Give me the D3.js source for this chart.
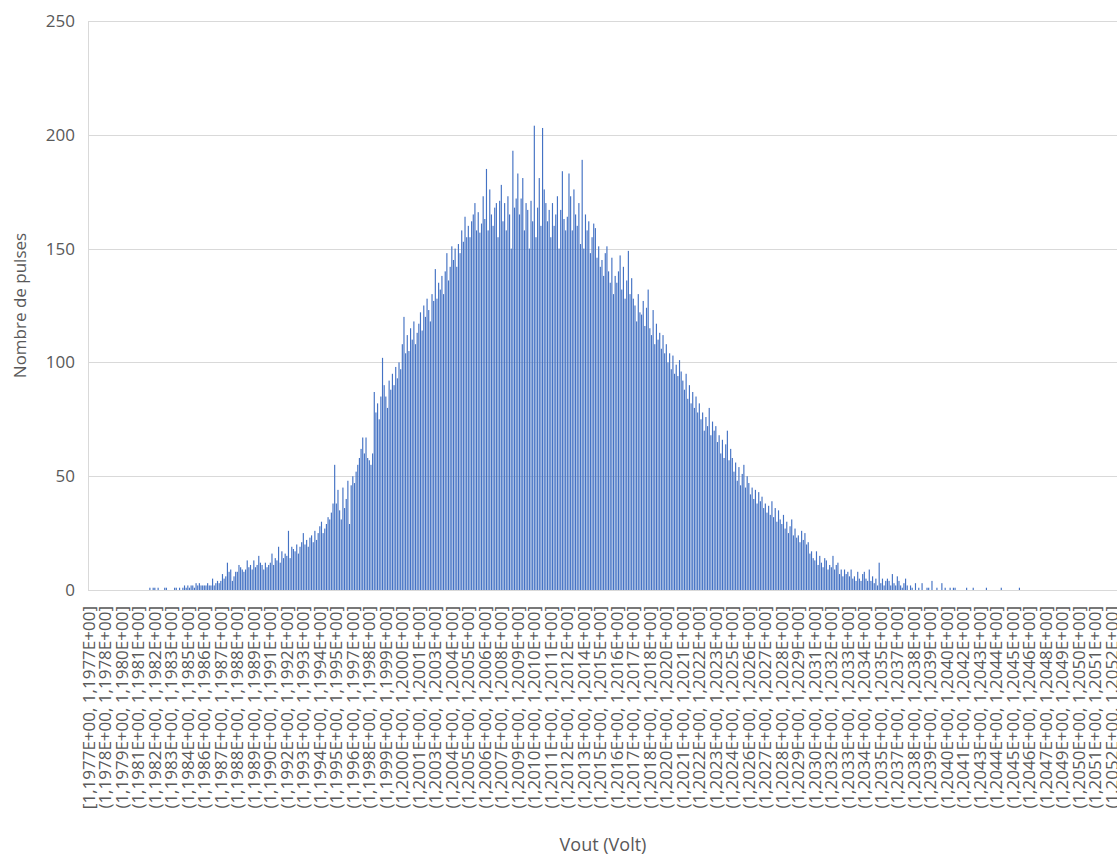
<!DOCTYPE html>
<html>
<head>
<meta charset="utf-8">
<script src="https://cdn.jsdelivr.net/npm/d3@7"></script>
<style>
  body { margin: 0; background: #ffffff; }
  svg { display: block; font-family: "Open Sans", sans-serif; }
</style>
</head>
<body>
<svg id="chart" width="1117" height="855"></svg>
<script>
// Pulse counts per Vout bin (ten bins per labelled interval)
const counts = [
  0,0,0,0,0,0,0,0,0,0,
  0,0,0,0,0,0,0,0,0,0,
  0,0,0,0,0,0,0,0,0,0,
  0,0,0,0,0,0,0,1,0,1,
  1,0,1,0,0,0,1,1,0,0,
  0,0,1,1,0,1,0,1,2,1,
  2,1,2,2,1,3,2,3,2,2,
  2,2,3,2,2,5,2,3,4,3,
  4,7,5,6,12,8,9,4,6,8,
  8,11,10,9,8,9,13,10,11,9,
  13,10,11,15,12,11,9,12,10,11,
  12,16,11,14,13,19,12,17,14,16,
  15,26,14,19,18,17,20,16,19,21,
  25,20,22,19,23,24,21,26,22,25,
  28,30,25,27,29,32,31,34,38,55,
  38,44,35,31,45,36,40,48,29,46,
  50,47,52,55,58,62,67,60,67,58,
  57,55,60,87,78,82,75,85,102,90,
  85,80,92,88,95,90,98,93,100,97,
  108,120,104,112,105,115,110,118,108,113,
  117,122,114,125,120,128,123,118,130,127,
  141,128,135,132,138,130,140,148,136,142,
  151,145,150,142,152,148,158,153,164,155,
  160,155,162,165,170,158,166,157,161,173,
  163,185,158,176,165,160,168,170,155,171,
  178,162,170,158,173,165,150,193,168,172,
  183,165,172,181,158,170,167,150,171,162,
  204,155,168,181,160,203,176,170,162,167,
  155,170,160,165,173,150,167,184,163,158,
  164,183,173,158,176,165,160,170,152,189,
  150,165,158,162,148,155,161,159,146,151,
  142,145,138,148,151,140,135,146,130,138,
  135,140,147,132,142,128,136,149,130,137,
  128,125,118,130,122,121,127,116,124,132,
  115,112,123,108,117,110,113,106,112,104,
  108,100,104,97,103,95,99,94,101,96,
  92,88,95,84,90,82,87,80,85,78,
  82,75,78,70,76,72,80,68,74,70,
  72,65,68,60,66,58,64,70,57,62,
  58,52,56,48,54,46,51,55,45,50,
  47,42,45,40,44,38,43,39,41,36,
  38,34,37,33,39,32,36,30,35,31,
  29,33,27,30,25,28,31,24,27,23,
  24,21,26,22,25,20,21,16,17,14,
  13,17,11,15,12,10,14,13,9,11,
  10,15,9,11,12,7,9,6,9,7,
  8,6,9,5,6,4,8,5,4,7,
  8,5,4,9,4,6,3,5,2,12,
  3,5,2,4,5,4,2,7,3,2,
  6,4,2,1,3,5,2,0,2,1,
  0,3,0,1,0,3,0,0,1,1,
  0,4,0,0,1,0,0,3,0,1,
  0,0,1,0,1,1,0,0,0,0,
  0,0,1,0,0,0,1,0,0,0,
  0,0,0,0,1,0,0,0,0,0,
  0,0,0,1,0,0,0,0,0,0,
  0,0,0,0,1,0,0,0,0,0,
  0,0,0,0,0,0,0,0,0,0,
  0,0,0,0,0,0,0,0,0,0,
  0,0,0,0,0,0,0,0,0,0,
  0,0,0,0,0,0,0,0,0,0,
  0,0,0,0,0,0,0,0,0,0,
  0,0,0,0,0,0,0,0,0,0
];

// Interval labels shown on the category axis, one every ten bins
const binLabels = [
  "[1,1977E+00, 1,1977E+00]", "(1,1978E+00, 1,1978E+00]", "(1,1979E+00, 1,1980E+00]",
  "(1,1981E+00, 1,1981E+00]", "(1,1982E+00, 1,1982E+00]", "(1,1983E+00, 1,1983E+00]",
  "(1,1984E+00, 1,1985E+00]", "(1,1986E+00, 1,1986E+00]", "(1,1987E+00, 1,1987E+00]",
  "(1,1988E+00, 1,1988E+00]", "(1,1989E+00, 1,1989E+00]", "(1,1990E+00, 1,1991E+00]",
  "(1,1992E+00, 1,1992E+00]", "(1,1993E+00, 1,1993E+00]", "(1,1994E+00, 1,1994E+00]",
  "(1,1995E+00, 1,1995E+00]", "(1,1996E+00, 1,1997E+00]", "(1,1998E+00, 1,1998E+00]",
  "(1,1999E+00, 1,1999E+00]", "(1,2000E+00, 1,2000E+00]", "(1,2001E+00, 1,2001E+00]",
  "(1,2003E+00, 1,2003E+00]", "(1,2004E+00, 1,2004E+00]", "(1,2005E+00, 1,2005E+00]",
  "(1,2006E+00, 1,2006E+00]", "(1,2007E+00, 1,2008E+00]", "(1,2009E+00, 1,2009E+00]",
  "(1,2010E+00, 1,2010E+00]", "(1,2011E+00, 1,2011E+00]", "(1,2012E+00, 1,2012E+00]",
  "(1,2013E+00, 1,2014E+00]", "(1,2015E+00, 1,2015E+00]", "(1,2016E+00, 1,2016E+00]",
  "(1,2017E+00, 1,2017E+00]", "(1,2018E+00, 1,2018E+00]", "(1,2020E+00, 1,2020E+00]",
  "(1,2021E+00, 1,2021E+00]", "(1,2022E+00, 1,2022E+00]", "(1,2023E+00, 1,2023E+00]",
  "(1,2024E+00, 1,2025E+00]", "(1,2026E+00, 1,2026E+00]", "(1,2027E+00, 1,2027E+00]",
  "(1,2028E+00, 1,2028E+00]", "(1,2029E+00, 1,2029E+00]", "(1,2030E+00, 1,2031E+00]",
  "(1,2032E+00, 1,2032E+00]", "(1,2033E+00, 1,2033E+00]", "(1,2034E+00, 1,2034E+00]",
  "(1,2035E+00, 1,2035E+00]", "(1,2037E+00, 1,2037E+00]", "(1,2038E+00, 1,2038E+00]",
  "(1,2039E+00, 1,2039E+00]", "(1,2040E+00, 1,2040E+00]", "(1,2041E+00, 1,2042E+00]",
  "(1,2043E+00, 1,2043E+00]", "(1,2044E+00, 1,2044E+00]", "(1,2045E+00, 1,2045E+00]",
  "(1,2046E+00, 1,2046E+00]", "(1,2047E+00, 1,2048E+00]", "(1,2049E+00, 1,2049E+00]",
  "(1,2050E+00, 1,2050E+00]", "(1,2051E+00, 1,2051E+00]", "(1,2052E+00, 1,2052E+00]"
];

const yTicks = [0, 50, 100, 150, 200, 250];
const labelEvery = 10;

(function draw() {
  const svg = d3.select("#chart");
  const W = 1117;
  const plotLeft = 88, plotTop = 21, plotBottom = 590;
  const step = 1.65;

  const x = d3.scaleBand()
    .domain(d3.range(counts.length))
    .range([plotLeft, plotLeft + counts.length * step])
    .paddingInner(0.3)
    .paddingOuter(0.15);

  const y = d3.scaleLinear().domain([0, 250]).range([plotBottom, plotTop]);

  const textColor = "#595959";
  const gridColor = "#d9d9d9";

  // horizontal gridlines
  svg.append("g")
    .selectAll("line")
    .data(yTicks)
    .join("line")
    .attr("x1", plotLeft).attr("x2", W)
    .attr("y1", d => Math.round(y(d)) + 0.5).attr("y2", d => Math.round(y(d)) + 0.5)
    .attr("stroke", gridColor).attr("stroke-width", 1);

  // value axis line
  svg.append("line")
    .attr("x1", plotLeft + 0.5).attr("x2", plotLeft + 0.5)
    .attr("y1", y(250)).attr("y2", y(0))
    .attr("stroke", gridColor);

  // bars
  svg.append("g")
    .selectAll("rect")
    .data(counts.map((v, i) => ({ i, v })).filter(d => d.v > 0))
    .join("rect")
    .attr("x", d => x(d.i))
    .attr("width", x.bandwidth())
    .attr("y", d => y(d.v))
    .attr("height", d => y(0) - y(d.v))
    .attr("fill", "#4472c4");

  // value axis labels
  const yAxis = d3.axisLeft(y).tickValues(yTicks).tickSize(0).tickPadding(13);
  const gy = svg.append("g").attr("transform", `translate(${plotLeft},0)`).call(yAxis);
  gy.select(".domain").remove();
  gy.selectAll("text")
    .attr("fill", textColor)
    .style("font-size", "17px")
    .style("font-family", "'Open Sans', sans-serif");

  // category axis labels, rotated
  const xAxis = d3.axisBottom(x)
    .tickValues(d3.range(0, counts.length, labelEvery))
    .tickFormat(i => binLabels[i / labelEvery])
    .tickSize(0);
  const gx = svg.append("g").attr("transform", "translate(0,606)").call(xAxis);
  gx.select(".domain").remove();
  gx.selectAll("text")
    .attr("transform", "rotate(-90)")
    .attr("text-anchor", "end")
    .attr("x", 0)
    .attr("y", 0)
    .attr("dy", "0.36em")
    .attr("fill", textColor)
    .style("font-size", "17px")
    .style("font-family", "'Open Sans', sans-serif");

  // axis titles
  svg.append("text")
    .attr("transform", `translate(20,${(plotTop + plotBottom) / 2}) rotate(-90)`)
    .attr("text-anchor", "middle")
    .attr("dy", "0.35em")
    .attr("fill", textColor)
    .style("font-size", "17px")
    .text("Nombre de pulses");

  svg.append("text")
    .attr("x", 603)
    .attr("y", 845)
    .attr("text-anchor", "middle")
    .attr("dy", "0.35em")
    .attr("fill", textColor)
    .style("font-size", "18px")
    .text("Vout (Volt)");
})();
</script>
</body>
</html>
